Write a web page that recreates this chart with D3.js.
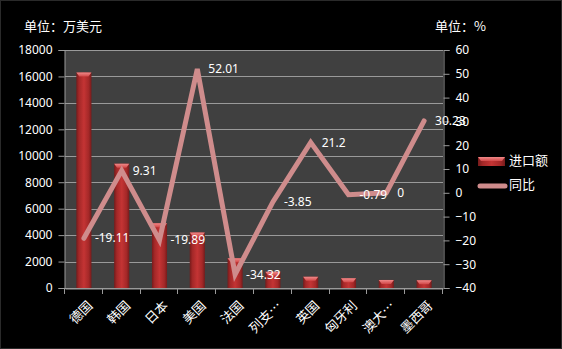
<!DOCTYPE html>
<html>
<head>
<meta charset="utf-8">
<script src="https://cdn.jsdelivr.net/npm/d3@7"></script>
<style>
html,body{margin:0;padding:0;background:#000;}
svg{display:block;}
text{font-family:"Noto Sans CJK SC","Noto Sans",sans-serif;}
</style>
</head>
<body>
<script>
const categories = ["德国","韩国","日本","美国","法国","列支…","英国","匈牙利","澳大…","墨西哥"];
const importValues = [16300, 9400, 4900, 4200, 2250, 1230, 850, 730, 610, 590];
const yoyValues = [-19.11, 9.31, -19.89, 52.01, -34.32, -3.85, 21.2, -0.79, 0, 30.23];
const leftTicks = [0,2000,4000,6000,8000,10000,12000,14000,16000,18000];
const rightTicks = [-40,-30,-20,-10,0,10,20,30,40,50,60];
const seriesNames = ["进口额","同比"];
const unitLeft = "单位：万美元";
const unitRight = "单位：%";

const W = 562, H = 349;
const m = {left:65, right:443, top:50, bottom:288};

const svg = d3.select("body").append("svg").attr("width",W).attr("height",H);
svg.append("rect").attr("width",W).attr("height",H).attr("fill","#000");

const defs = svg.append("defs");
const g1 = defs.append("linearGradient").attr("id","barGrad").attr("x1","0").attr("x2","1").attr("y1","0").attr("y2","0");
[[0,"#761b1b"],[0.18,"#a42828"],[0.5,"#c43434"],[0.82,"#a42828"],[1,"#761b1b"]].forEach(s=>g1.append("stop").attr("offset",s[0]).attr("stop-color",s[1]));
const g2 = defs.append("linearGradient").attr("id","capGrad").attr("x1","0").attr("x2","0").attr("y1","0").attr("y2","1");
[[0,"#f08a8a"],[1,"#d24848"]].forEach(s=>g2.append("stop").attr("offset",s[0]).attr("stop-color",s[1]));

const x = d3.scaleBand().domain(categories).range([m.left,m.right]).paddingInner(0).paddingOuter(0);
const yL = d3.scaleLinear().domain([0,18000]).range([m.bottom,m.top]);
const yR = d3.scaleLinear().domain([-40,60]).range([m.bottom,m.top]);

// plot background
svg.append("rect").attr("x",m.left).attr("y",m.top).attr("width",m.right-m.left).attr("height",m.bottom-m.top).attr("fill","#404040");

// gridlines
svg.append("g").selectAll("line").data(leftTicks).join("line")
  .attr("x1",m.left).attr("x2",m.right)
  .attr("y1",d=>Math.round(yL(d))+0.5).attr("y2",d=>Math.round(yL(d))+0.5)
  .attr("stroke","#9a9a9a").attr("stroke-width",1);

// left axis
const axL = svg.append("g").attr("transform",`translate(${m.left-0.5},0)`)
  .call(d3.axisLeft(yL).tickValues(leftTicks).tickSize(6).tickPadding(6).tickFormat(d3.format("d")));
// right axis
const axR = svg.append("g").attr("transform",`translate(${m.right+0.5},0)`)
  .call(d3.axisRight(yR).tickValues(rightTicks).tickSize(6).tickPadding(6).tickFormat(d3.format("d")));
// bottom axis
const axB = svg.append("g").attr("transform",`translate(0,${m.bottom+0.5})`)
  .call(d3.axisBottom(x).tickSize(0).tickFormat(""));
[axL,axR,axB].forEach(a=>{
  a.selectAll("path.domain").attr("stroke","#9a9a9a");
  a.selectAll(".tick line").attr("stroke","#9a9a9a");
  a.selectAll("text").attr("fill","#ffffff").style("font-size","12px")
   .style("font-family","'Noto Sans','Noto Sans CJK SC',sans-serif");
});
// category boundary ticks
svg.append("g").selectAll("line").data(d3.range(categories.length+1)).join("line")
  .attr("x1",i=>Math.round(m.left+i*x.step())-0.5).attr("x2",i=>Math.round(m.left+i*x.step())-0.5)
  .attr("y1",m.bottom).attr("y2",m.bottom+6).attr("stroke","#9a9a9a");

// category labels
svg.append("g").selectAll("text").data(categories).join("text")
  .attr("transform",d=>`translate(${x(d)+x.bandwidth()/2+3},${m.bottom+12}) rotate(-45)`)
  .attr("text-anchor","end").attr("dy","0.7em")
  .attr("fill","#ffffff").style("font-size","13px")
  .text(d=>d);

// bars
const bw = x.bandwidth()*0.4;
const bars = svg.append("g").selectAll("g").data(importValues).join("g");
bars.append("rect")
  .attr("x",(d,i)=>x(categories[i])+x.bandwidth()/2-bw/2)
  .attr("y",d=>yL(d)).attr("width",bw).attr("height",d=>m.bottom-yL(d))
  .attr("fill","url(#barGrad)");
bars.append("path")
  .attr("d",(d,i)=>{
    const x0 = x(categories[i])+x.bandwidth()/2-bw/2, y0 = yL(d);
    return `M${x0},${y0}L${x0+bw},${y0}L${x0+bw-3},${y0+4}L${x0+3},${y0+4}Z`;
  })
  .attr("fill","url(#capGrad)");

// line
const line = d3.line().x((d,i)=>x(categories[i])+x.bandwidth()/2).y(d=>yR(d));
svg.append("path").datum(yoyValues).attr("d",line)
  .attr("fill","none").attr("stroke","#cf8c8c").attr("stroke-width",5)
  .attr("stroke-linejoin","miter").attr("stroke-linecap","round");

// data labels
svg.append("g").selectAll("text").data(yoyValues).join("text")
  .attr("x",(d,i)=>x(categories[i])+x.bandwidth()/2+11)
  .attr("y",d=>yR(d)).attr("dy","0.35em")
  .attr("fill","#ffffff").style("font-size","12px")
  .style("font-family","'Noto Sans','Noto Sans CJK SC',sans-serif")
  .text(d=>String(d));

// unit labels
svg.append("text").attr("x",24).attr("y",26).attr("dy","0.35em").attr("fill","#fff").style("font-size","13px").text(unitLeft);
svg.append("text").attr("x",435).attr("y",26).attr("dy","0.35em").attr("fill","#fff").style("font-size","13px").text(unitRight);

// legend
const lg = svg.append("g");
lg.append("rect").attr("x",478).attr("y",157).attr("width",27).attr("height",9).attr("fill","url(#barGrad)");
lg.append("path").attr("d","M478,157L505,157L502,161L481,161Z").attr("fill","url(#capGrad)");
lg.append("text").attr("x",509).attr("y",160).attr("dy","0.35em").attr("fill","#fff").style("font-size","13px").text(seriesNames[0]);
lg.append("line").attr("x1",480).attr("x2",505).attr("y1",186).attr("y2",186)
  .attr("stroke","#cf8c8c").attr("stroke-width",5).attr("stroke-linecap","round");
lg.append("text").attr("x",509).attr("y",184).attr("dy","0.35em").attr("fill","#fff").style("font-size","13px").text(seriesNames[1]);

// outer border
svg.append("rect").attr("x",0.5).attr("y",0.5).attr("width",W-1).attr("height",H-1).attr("fill","none").attr("stroke","#2a2a2a");
</script>
</body>
</html>
